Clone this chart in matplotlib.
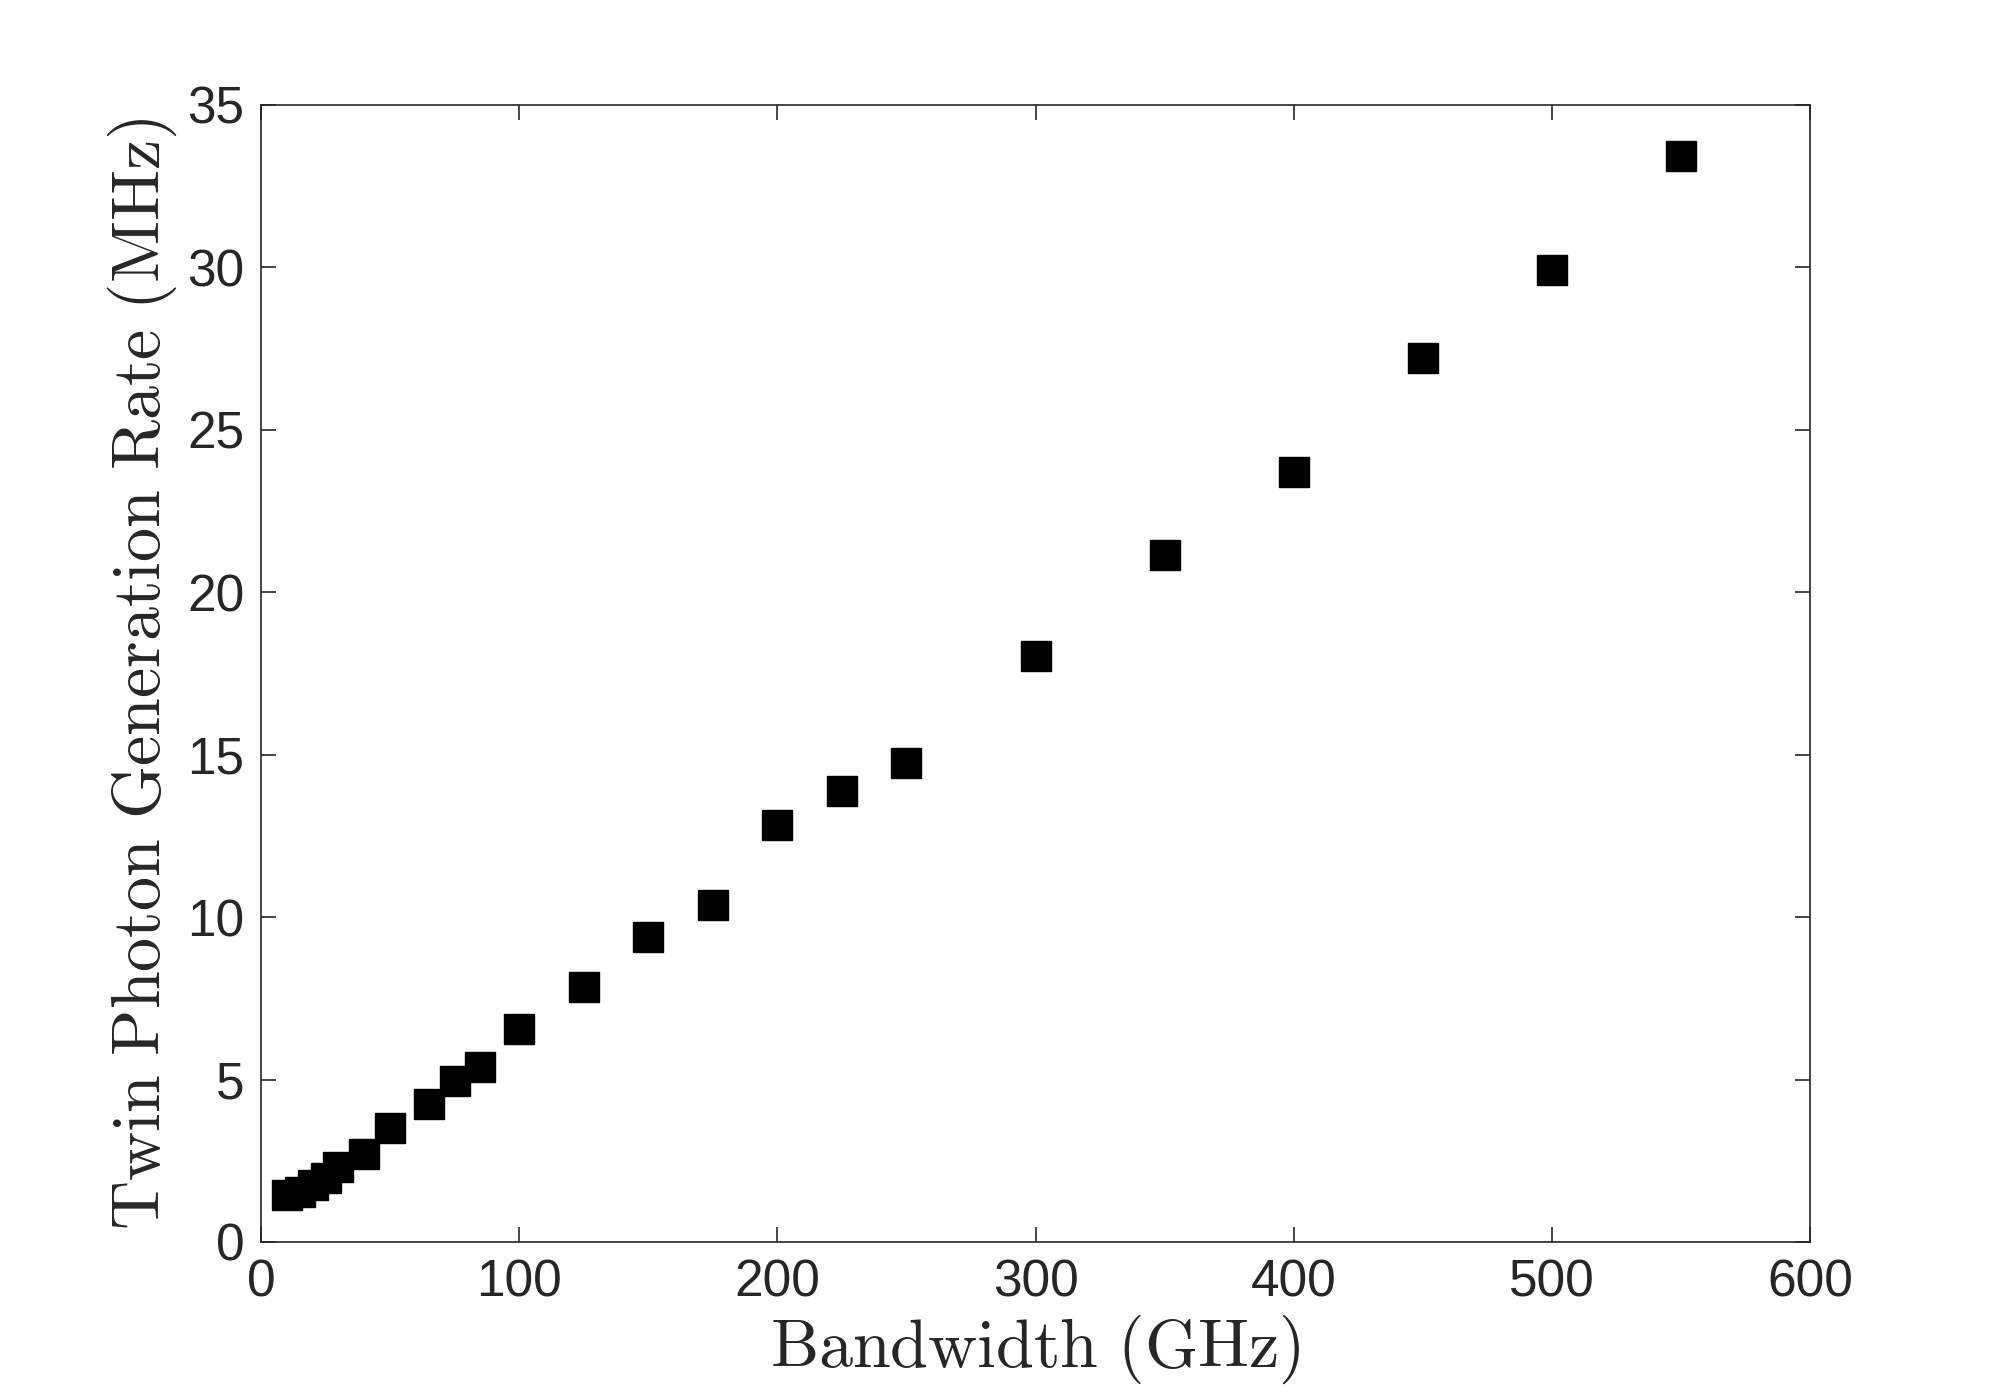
import matplotlib
matplotlib.use("Agg")
import matplotlib.pyplot as plt

bandwidth_ghz = [10, 15, 20, 25, 30, 40, 50, 65, 75, 85, 100, 125, 150, 175,
                 200, 225, 250, 300, 350, 400, 450, 500, 550]
rate_mhz = [1.43, 1.53, 1.74, 1.96, 2.30, 2.70, 3.50, 4.24, 4.95, 5.38, 6.55,
            7.86, 9.40, 10.38, 12.82, 13.88, 14.75, 18.05, 21.16, 23.71,
            27.21, 29.93, 33.42]
xticks = [0, 100, 200, 300, 400, 500, 600]
yticks = [0, 5, 10, 15, 20, 25, 30, 35]

plt.rcParams['mathtext.fontset'] = 'cm'
plt.rcParams['font.family'] = ['Liberation Sans', 'DejaVu Sans']

fig = plt.figure(figsize=(20, 14), dpi=100)
ax = fig.add_axes([0.1305, 0.1129, 0.7745, 0.8121])

ax.plot(bandwidth_ghz, rate_mhz, linestyle='none', marker='s', markersize=21,
        markerfacecolor='black', markeredgecolor='black')

ax.set_xlim(0, 600)
ax.set_ylim(0, 35)
ax.set_xticks(xticks)
ax.set_yticks(yticks)
ax.tick_params(direction='in', length=11, width=1.2, top=True, right=True,
               labelsize=37, colors='#262626', pad=12)
for s in ax.spines.values():
    s.set_color('#262626')
    s.set_linewidth(1.2)

ax.set_xlabel(r'$\mathrm{Bandwidth\ (GHz)}$', fontsize=49, color='#262626', labelpad=4)
ax.set_ylabel(r'$\mathrm{Twin\ Photon\ Generation\ Rate\ (MHz)}$', fontsize=49,
              color='#262626', labelpad=6)

fig.savefig('out.png', dpi=100, facecolor='white')
